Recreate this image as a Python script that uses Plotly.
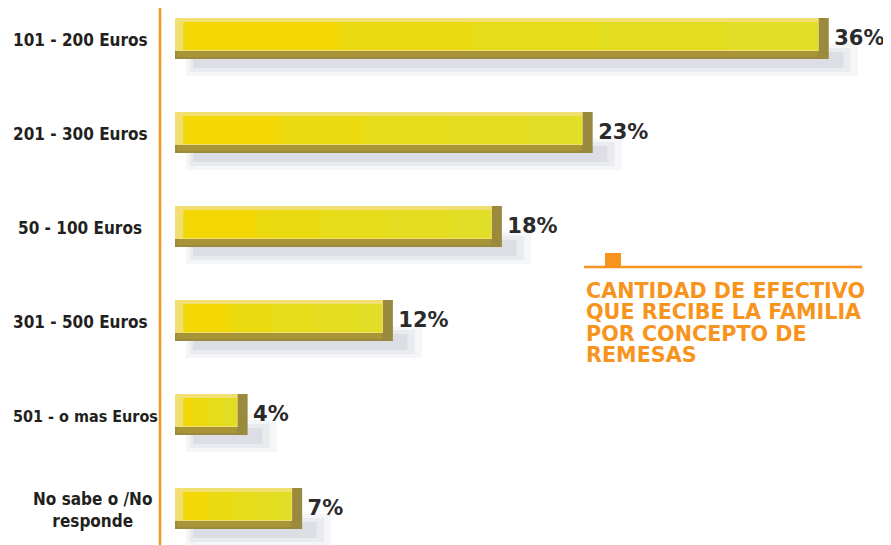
import plotly.graph_objects as go

categories = ["101 - 200 Euros", "201 - 300 Euros", "50 - 100 Euros",
              "301 - 500 Euros", "501 - o mas Euros", "No sabe o /No<br>responde"]
values = [36, 23, 18, 12, 4, 7]
value_labels = ["36%", "23%", "18%", "12%", "4%", "7%"]
title_lines = ["CANTIDAD DE EFECTIVO", "QUE RECIBE LA FAMILIA",
               "POR CONCEPTO DE", "REMESAS"]

# the page body has an 8px margin: work in screen pixels and shift
OFF = 8
SW, SH = 891, 545
W, H = SW - OFF, SH - OFF

def sx(px):  # screen x -> figure x pixel
    return px - OFF

def sy(px):
    return px - OFF

L = sx(160)
PW = W - L
PX_X = 18.16          # pixels per percent
X0_PX = sx(175)       # pixel of value 0
PX_Y = 94.0           # pixels per category step
Y0_PX = sy(40)        # pixel of first category centre

xmin = (L - X0_PX) / PX_X
xmax = (W - X0_PX) / PX_X
ymin = -Y0_PX / PX_Y
ymax = (H - Y0_PX) / PX_Y

ypos = list(range(len(categories)))

def u(px):
    return px / PX_Y

def px_x(screen_px):
    return (sx(screen_px) - L) / PW

def px_y(screen_px):
    return 1 - sy(screen_px) / H

def layer(xs_start, xs_end, top_px, bot_px, color):
    return go.Bar(
        orientation="h", y=ypos,
        base=xs_start, x=[e - s for s, e in zip(xs_start, xs_end)],
        width=u(bot_px - top_px), offset=u(top_px),
        marker=dict(color=color, line=dict(width=0)),
        hoverinfo="skip", showlegend=False,
    )

fig = go.Figure()
# soft shadow (several faint layers)
for (a, b, t, bt, col) in [
    (0.6, 1.6, 4, 36, "rgba(160,165,190,0.10)"),
    (0.8, 1.2, 8, 32, "rgba(150,155,180,0.12)"),
    (1.0, 0.8, 12, 28, "rgba(140,145,170,0.14)"),
]:
    fig.add_trace(layer([a] * 6, [v + b for v in values], t, bt, col))
# dark base (bottom & right bevel)
fig.add_trace(layer([0] * 6, values, -22, 19, "#9a8a3e"))
# bottom bevel lighter part
fig.add_trace(layer([0.1] * 6, [v - 0.6 for v in values], 10, 17, "#a99438"))
# left/top light bevel
fig.add_trace(layer([0] * 6, [v - 0.55 for v in values], -22, 11, "#f1df72"))
# face
fig.add_trace(layer([0.45] * 6, [v - 0.6 for v in values], -18, 10, "#f3d806"))
# gradient tint toward the right
for frac in [0.25, 0.45, 0.65, 0.85]:
    fig.add_trace(layer([v * frac for v in values], [v - 0.6 for v in values],
                        -18, 10, "rgba(212,226,60,0.22)"))

# value labels
fig.add_trace(go.Scatter(
    x=[v + 0.3 for v in values], y=ypos, mode="text",
    text=value_labels, textposition="middle right",
    textfont=dict(family="DejaVu Sans", size=21, color="#2b2b2b", weight="bold"),
    hoverinfo="skip", showlegend=False,
))

annotations = []
for i, c in enumerate(categories):
    size = 17
    if "<br>" in c:
        cx = 92
    elif c.startswith("501"):
        cx, size = 85, 16
    else:
        cx = 80
    annotations.append(dict(
        x=px_x(cx), xref="paper", y=i, yref="y",
        text=c, showarrow=False, xanchor="center", yanchor="middle",
        align="center",
        font=dict(family="DejaVu Sans Condensed, sans-serif",
                  size=size, color="#231f20", weight="bold"),
    ))

for k, t in enumerate(title_lines):
    ypx = 291 + k * 21.3
    annotations.append(dict(
        x=px_x(584), xref="paper", y=px_y(ypx), yref="paper",
        text=t, showarrow=False, xanchor="left", yanchor="middle",
        font=dict(family="DejaVu Sans", size=20.7, color="#f7941d", weight="bold"),
    ))

orange = "#f7941d"
shapes = [
    dict(type="line", xref="paper", yref="paper",
         x0=0, x1=0, y0=px_y(8), y1=0, line=dict(color=orange, width=2.5)),
    dict(type="line", xref="paper", yref="paper",
         x0=px_x(584), x1=px_x(862),
         y0=px_y(267), y1=px_y(267), line=dict(color=orange, width=2.5)),
    dict(type="rect", xref="paper", yref="paper",
         x0=px_x(605), x1=px_x(621),
         y0=px_y(267), y1=px_y(253), fillcolor=orange, line=dict(width=0)),
]

fig.update_layout(
    width=W, height=H,
    margin=dict(l=L, r=0, t=0, b=0),
    paper_bgcolor="white", plot_bgcolor="white",
    barmode="overlay",
    xaxis=dict(range=[xmin, xmax], visible=False, fixedrange=True),
    yaxis=dict(range=[ymax, ymin], visible=False, fixedrange=True),
    annotations=annotations, shapes=shapes,
    showlegend=False,
)

fig.write_html("out.html")
